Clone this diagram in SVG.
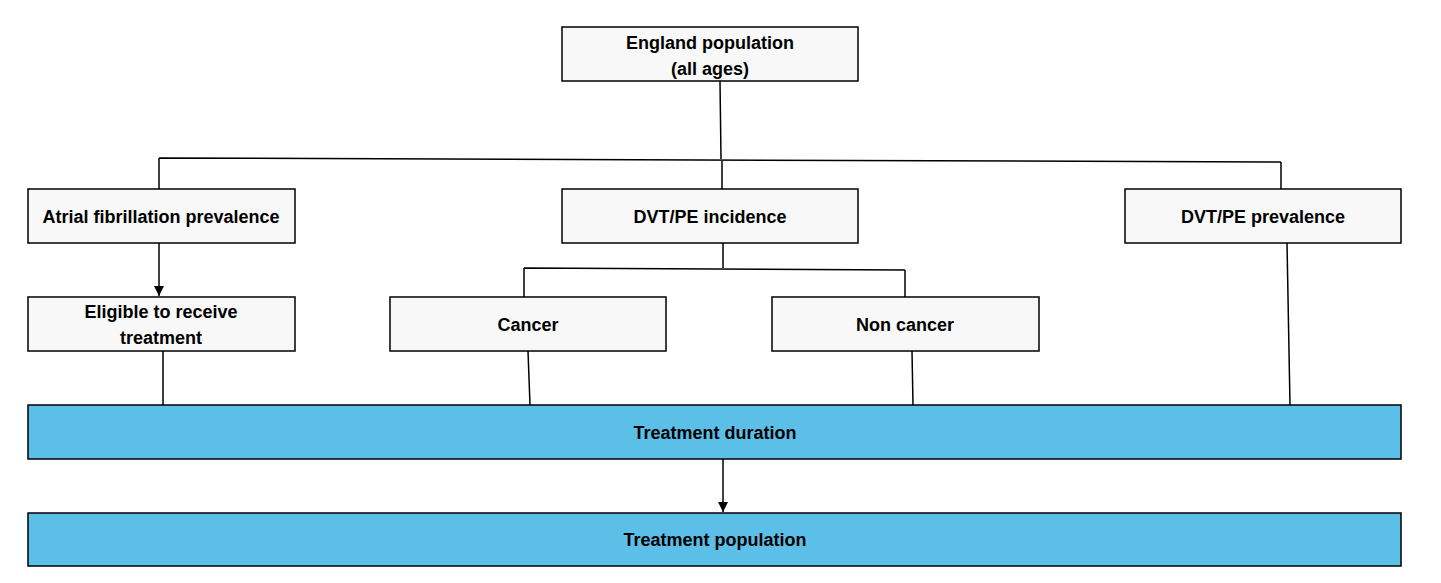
<svg xmlns="http://www.w3.org/2000/svg" width="1441" height="583" viewBox="0 0 1441 583">
<style>
.b{fill:#f8f8f8;stroke:#000;stroke-width:1.5}
.c{fill:#5bbfe8;stroke:#000;stroke-width:1.5}
text{font-family:"Liberation Sans",Arial,sans-serif;font-weight:bold;font-size:18px;text-anchor:middle}
.l{stroke:#000;stroke-width:1.5;fill:none}
</style>
<defs><marker id="a" viewBox="0 0 10 10" refX="10" refY="5" markerWidth="7" markerHeight="7" orient="auto"><path d="M0,0L10,5L0,10z"/></marker></defs>
<rect width="1441" height="583" fill="#fff"/>
<g id="connectors">
<path class="l" d="M720,81L721,159M159,158L1281,162M159,158V189M722,160V189M1281,162V189"/>
<path class="l" d="M159,243V296" marker-end="url(#a)"/>
<path class="l" d="M723,243V268M524,268L905,270M524,268V297M905,270V297"/>
<path class="l" d="M163,351V405M528,351L530,405M912,351L913,405M1287,243L1290,405"/>
<path class="l" d="M723,459V512" marker-end="url(#a)"/>
</g>
<g id="england"><rect class="b" x="562" y="27" width="296" height="54"/><text x="710" y="49">England population</text><text x="710" y="75">(all ages)</text></g>
<g id="af"><rect class="b" x="28" y="189" width="267" height="54"/><text x="161" y="223">Atrial fibrillation prevalence</text></g>
<g id="inc"><rect class="b" x="562" y="189" width="296" height="54"/><text x="710" y="223">DVT/PE incidence</text></g>
<g id="prev"><rect class="b" x="1125" y="189" width="276" height="54"/><text x="1263" y="223">DVT/PE prevalence</text></g>
<g id="elig"><rect class="b" x="28" y="297" width="267" height="54"/><text x="161" y="318">Eligible to receive</text><text x="161" y="344">treatment</text></g>
<g id="cancer"><rect class="b" x="390" y="297" width="276" height="54"/><text x="528" y="331">Cancer</text></g>
<g id="noncancer"><rect class="b" x="772" y="297" width="267" height="54"/><text x="905" y="331">Non cancer</text></g>
<g id="dur"><rect class="c" x="28" y="405" width="1373" height="54"/><text x="715" y="439">Treatment duration</text></g>
<g id="pop"><rect class="c" x="28" y="513" width="1373" height="53"/><text x="715" y="546">Treatment population</text></g>
</svg>
